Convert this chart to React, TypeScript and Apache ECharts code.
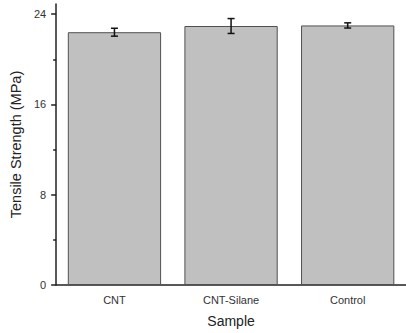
import React, { useEffect, useRef } from "react";
import * as echarts from "echarts";

const categories = ["CNT", "CNT-Silane", "Control"];
const strengthValues = [22.4, 22.95, 23.0];
const strengthErrors = [0.35, 0.66, 0.23];
const yMajorTicks = [0, 8, 16, 24];
const yMinorTicks = [4, 12, 20];

const FONT = "Liberation Sans, Arial, sans-serif";

export default function App() {
  const ref = useRef<HTMLDivElement>(null);
  useEffect(() => {
    if (!ref.current) return;
    const chart = echarts.init(ref.current, undefined, { renderer: "svg" });
    const errData = categories.map((_, i) => [i, strengthValues[i] - strengthErrors[i], strengthValues[i] + strengthErrors[i]]);
    chart.setOption({
      animation: false,
      backgroundColor: "#ffffff",
      textStyle: { fontFamily: FONT },
      grid: { left: 53, top: 4, bottom: 47, width: 360 },
      xAxis: [
        {
          type: "category",
          data: categories,
          name: "Sample",
          nameLocation: "middle",
          nameGap: 29,
          nameTextStyle: { fontSize: 14, color: "#222", fontFamily: FONT },
          axisLine: { lineStyle: { color: "#222", width: 1.5 } },
          axisTick: { alignWithLabel: true, length: 5, lineStyle: { color: "#222", width: 1.5 } },
          axisLabel: { fontSize: 11, color: "#333", margin: 9, fontFamily: FONT },
        },
        {
          type: "category",
          data: categories,
          position: "bottom",
          axisLine: { show: false },
          axisTick: { length: 3, lineStyle: { color: "#222", width: 1.5 } },
          axisLabel: { show: false },
        },
      ],
      yAxis: [
        {
          type: "value",
          min: 0,
          max: 24.9,
          name: "Tensile Strength (MPa)",
          nameLocation: "middle",
          nameGap: 28,
          nameTextStyle: { fontSize: 14.5, color: "#222", fontFamily: FONT },
          splitLine: { show: false },
          axisLine: { show: true, lineStyle: { color: "#222", width: 1.5 } },
          axisTick: { show: true, length: 5, customValues: yMajorTicks, lineStyle: { color: "#222", width: 1.5 } },
          axisLabel: { fontSize: 11, color: "#333", margin: 10, customValues: yMajorTicks, fontFamily: FONT },
        },
        {
          type: "value",
          min: 0,
          max: 24.9,
          position: "left",
          splitLine: { show: false },
          axisLine: { show: false },
          axisTick: { show: true, length: 3, customValues: yMinorTicks, lineStyle: { color: "#222", width: 1.5 } },
          axisLabel: { show: false, customValues: yMinorTicks },
        },
      ],
      series: [
        {
          type: "bar",
          data: strengthValues,
          barWidth: "80%",
          itemStyle: { color: "#c0c0c0", borderColor: "#505050", borderWidth: 1 },
        },
        {
          type: "custom",
          data: errData,
          z: 10,
          renderItem: (params: any, api: any) => {
            const x = api.value(0);
            const lo = api.coord([x, api.value(1)]);
            const hi = api.coord([x, api.value(2)]);
            const hw = 3.5;
            const style = { stroke: "#111", lineWidth: 1.5 };
            return {
              type: "group",
              children: [
                { type: "line", shape: { x1: lo[0], y1: lo[1], x2: hi[0], y2: hi[1] }, style },
                { type: "line", shape: { x1: lo[0] - hw, y1: lo[1], x2: lo[0] + hw, y2: lo[1] }, style },
                { type: "line", shape: { x1: hi[0] - hw, y1: hi[1], x2: hi[0] + hw, y2: hi[1] }, style },
              ],
            };
          },
        },
      ],
    });
    return () => chart.dispose();
  }, []);
  return <div ref={ref} style={{ width: 406, height: 333, position: "absolute", left: 0, top: 0 }} />;
}
